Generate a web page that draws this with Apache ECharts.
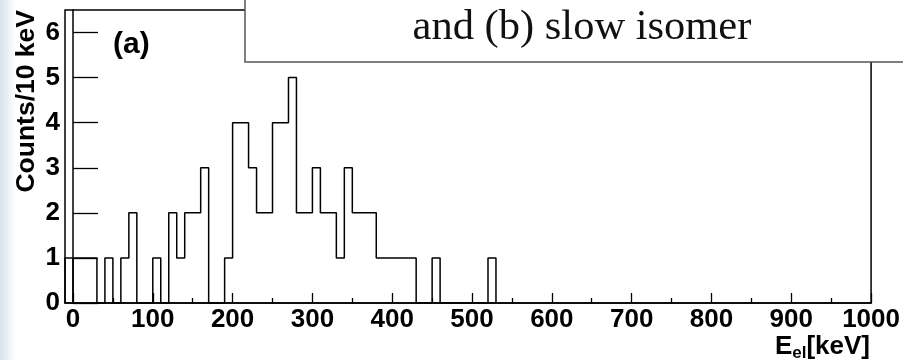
<!DOCTYPE html>
<html>
<head>
<meta charset="utf-8">
<script src="https://cdn.jsdelivr.net/npm/echarts@6/dist/echarts.min.js"></script>
<style>
  html, body { margin: 0; padding: 0; background: #fff; }
  #chart { width: 903px; height: 360px; }
</style>
</head>
<body>
<div id="chart"></div>
<script>
// 10 keV bins, first bin starts at -10 keV
const binStart = -10;
const binWidth = 10;
const counts = [
  1, 1, 1, 1, 0, 1, 0, 1, 2, 0,   // -10 .. 80
  0, 1, 0, 2, 1, 2, 2, 3, 0, 0,   // 90 .. 180
  1, 4, 4, 3, 2, 2, 4, 4, 5, 2,   // 190 .. 280
  2, 3, 2, 2, 1, 3, 2, 2, 2, 1,   // 290 .. 380
  1, 1, 1, 1, 0, 0, 1, 0, 0, 0,   // 390 .. 480
  0, 0, 0, 1                      // 490 .. 520
];
const xTickLabels = [0, 100, 200, 300, 400, 500, 600, 700, 800, 900, 1000];
const xMinorTicks = [50, 150, 250, 350, 450, 550, 650, 750, 850, 950];
const yTickLabels = [0, 1, 2, 3, 4, 5, 6];

// outline of the histogram as a polyline through bin edges
const outline = [[binStart, 0]];
counts.forEach((c, i) => {
  const lo = binStart + i * binWidth;
  outline.push([lo, c], [lo + binWidth, c]);
});
outline.push([binStart + counts.length * binWidth, 0]);

const chart = echarts.init(document.getElementById("chart"));
const font = { color: "#000", fontWeight: "bold", fontFamily: "Liberation Sans" };
const bold = Object.assign({ fontSize: 26 }, font);

chart.setOption({
  animation: false,
  backgroundColor: "#fff",
  grid: {
    left: 65, right: 30, top: 10, bottom: 57,
    show: true, borderColor: "#000", borderWidth: 1.5, backgroundColor: "transparent"
  },
  xAxis: [
    {
      type: "value", min: -10, max: 1000,
      splitLine: { show: false },
      axisLine: { lineStyle: { color: "#000", width: 1.5 } },
      axisTick: { inside: true, length: 10, customValues: xTickLabels, lineStyle: { color: "#000", width: 1.3 } },
      axisLabel: Object.assign({ margin: 4, customValues: xTickLabels, formatter: v => String(v) }, bold)
    },
    {
      type: "value", min: -10, max: 1000, position: "bottom",
      splitLine: { show: false },
      axisLine: { show: false },
      axisTick: { inside: true, length: 5, customValues: xMinorTicks, lineStyle: { color: "#000", width: 1.3 } },
      axisLabel: { show: false }
    }
  ],
  yAxis: {
    type: "value", min: 0, max: 6.5,
    splitLine: { show: false },
    axisLine: { lineStyle: { color: "#000", width: 1.5 } },
    axisTick: { inside: true, length: 25, customValues: yTickLabels, lineStyle: { color: "#000", width: 1.3 } },
    axisLabel: Object.assign({ margin: 5, customValues: yTickLabels }, bold)
  },
  series: [
    {
      type: "line",
      data: outline,
      showSymbol: false,
      lineStyle: { color: "#000", width: 1.5 },
      markLine: {
        silent: true, symbol: "none", label: { show: false },
        lineStyle: { color: "#000", width: 1.5, type: "solid" },
        data: [[{ coord: [0, 0] }, { coord: [0, counts[0]] }]]
      }
    }
  ],
  graphic: [
    {
      type: "rect", left: 0, top: 0, z: -1,
      shape: { width: 16, height: 360 },
      style: {
        fill: new echarts.graphic.LinearGradient(0, 0, 1, 0, [
          { offset: 0, color: "#d9e2ee" },
          { offset: 1, color: "#ffffff" }
        ])
      }
    },
    {
      type: "text", x: 27, y: 10, rotation: Math.PI / 2,
      style: Object.assign({ text: "Counts/10 keV", align: "right", verticalAlign: "middle", fontSize: 26.5 }, font)
    },
    {
      type: "text", x: 113, y: 45,
      style: Object.assign({ text: "(a)", align: "left", verticalAlign: "middle", fontSize: 30 }, font)
    },
    {
      type: "text", x: 870, y: 362,
      style: {
        text: "{e|E}{s|el}{e|[keV]}",
        align: "right", verticalAlign: "bottom",
        rich: {
          e: Object.assign({ fontSize: 26, verticalAlign: "top", lineHeight: 28 }, font),
          s: Object.assign({ fontSize: 17, verticalAlign: "bottom", lineHeight: 28, padding: [13, 0, 0, 0] }, font)
        }
      }
    },
    {
      type: "rect", x: 245, y: -2, z: 100,
      shape: { width: 680, height: 64 },
      style: { fill: "#fff", stroke: "#555", lineWidth: 1.5 }
    },
    {
      type: "text", x: 582, y: 28, z: 101,
      style: {
        text: "and (b) slow isomer", align: "center", verticalAlign: "middle",
        fill: "#111", fontSize: 42.5, fontFamily: "Liberation Serif"
      }
    }
  ]
});
</script>
</body>
</html>
